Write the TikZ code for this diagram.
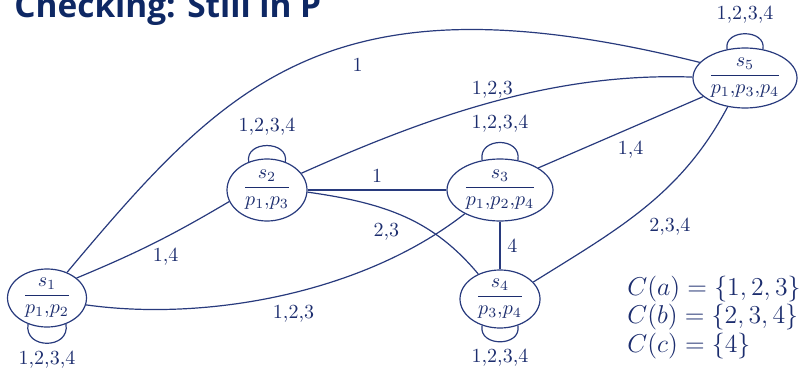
\documentclass[tikz,border=0pt]{standalone}
\usepackage{amsmath}
\usepackage{fontspec}
\newfontfamily\titlefont{Open Sans}
\usetikzlibrary{shapes.geometric}

\definecolor{titlecol}{RGB}{14,40,100}
\definecolor{graphcol}{RGB}{40,58,125}
\definecolor{textcol}{RGB}{28,45,110}

% state label: name over the propositions that hold in it
\newcommand\stfrac[2]{$\genfrac{}{}{0.7pt}{0}{#1}{#2}$}

\tikzset{
  st/.style={ellipse, draw=graphcol, line width=0.6pt, inner sep=0pt},
  edge/.style={draw=graphcol, line width=0.6pt},
  lbl/.style={text=textcol, font=\normalsize},
  setline/.style={anchor=base west, inner sep=0pt, text=textcol,
                  font=\large, scale=1.075, transform shape},
}

\begin{document}
\begin{tikzpicture}[x=0.5pt, y=-0.5pt]
\clip (0,0) rectangle (802,369);

% title (partly cut by the top edge)
\node[anchor=base west, inner sep=0pt, text=titlecol,
      font=\titlefont\bfseries\fontsize{16.7}{20}\selectfont] (title) at (14,18)
      {Checking: Still in P};

% states
\node[st, minimum width=39.5pt, minimum height=29pt,
      label={[text=textcol]center:\stfrac{s_1}{p_1{,}p_2}}] (s1) at (47,298) {};
\node[st, minimum width=40pt, minimum height=31pt,
      label={[text=textcol]center:\stfrac{s_2}{p_1{,}p_3}}] (s2) at (267,190) {};
\node[st, minimum width=53pt, minimum height=31pt,
      label={[text=textcol]center:\stfrac{s_3}{p_1{,}p_2{,}p_4}}] (s3) at (500,190) {};
\node[st, minimum width=40pt, minimum height=29pt,
      label={[text=textcol]center:\stfrac{s_4}{p_3{,}p_4}}] (s4) at (500,299) {};
\node[st, minimum width=52pt, minimum height=30pt,
      label={[text=textcol]center:\stfrac{s_5}{p_1{,}p_3{,}p_4}}] (s5) at (745,78) {};

% transitions between states
\draw[edge] (s1.52) .. controls +(50:125pt) and +(166:190pt) ..
  node[lbl, pos=0.57, below, xshift=6pt, yshift=-2.5pt] {1} (s5.161);
\draw[edge] (s2.26) .. controls +(24:70pt) and +(178:70pt) ..
  node[lbl, pos=0.5, above, yshift=-2pt] {1,2,3} (s5.179);
\draw[edge] (s2) -- node[lbl, above] {1} (s3);
\draw[edge] (s2.-3) .. controls +(-8:40pt) and +(130:35pt) ..
  node[lbl, pos=0.45, below=1pt, xshift=-5.5pt] {2,3} (s4.131);
\draw[edge] (s1.34) to[bend right=4]
  node[lbl, pos=0.58, anchor=north, inner sep=1.5pt, yshift=-3.5pt] {1,4} (s2.197);
\draw[edge] (s1.-10) .. controls +(-8:60pt) and +(218:65pt) ..
  node[lbl, pos=0.5, below=1pt, xshift=6pt] {1,2,3} (s3.214);
\draw[edge] (s3.30) -- node[lbl, pos=0.56, below=3pt] {1,4} (s5.204);
\draw[edge] (s3) -- node[lbl, right] {4} (s4);
\draw[edge] (s4.27) .. controls +(32:50pt) and +(242:50pt) ..
  node[lbl, pos=0.5, anchor=north west, inner sep=2pt, yshift=-3pt] {2,3,4} (s5.239);

% self loops
\draw[edge] (s1.234) .. controls +(260:13pt) and +(280:13pt) ..
  node[lbl, below] {1,2,3,4} (s1.306);
\draw[edge] (s2.123) .. controls +(100:11pt) and +(80:11pt) ..
  node[lbl, above=1.5pt] {1,2,3,4} (s2.57);
\draw[edge] (s3.121) .. controls +(100:12pt) and +(80:12pt) ..
  node[lbl, above=1.5pt] {1,2,3,4} (s3.59);
\draw[edge] (s4.236) .. controls +(260:11pt) and +(280:11pt) ..
  node[lbl, below] {1,2,3,4} (s4.304);
\draw[edge] (s5.122) .. controls +(100:10.5pt) and +(80:10.5pt) ..
  node[lbl, above=1.5pt] {1,2,3,4} (s5.58);

% agent capability sets
\node[setline] (ca) at (627,295) {$C(a) = \{1, 2, 3\}$};
\node[setline] (cb) at (627,323) {$C(b) = \{2, 3, 4\}$};
\node[setline] (cc) at (627,352) {$C(c) = \{4\}$};
\end{tikzpicture}
\end{document}
